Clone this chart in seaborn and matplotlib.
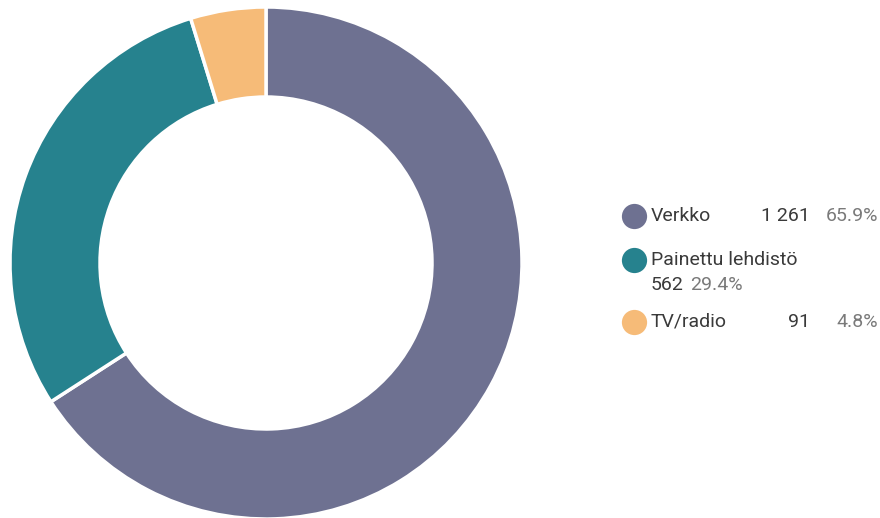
import matplotlib
matplotlib.use("Agg")
import matplotlib.pyplot as plt
import seaborn as sns

categories = ["Verkko", "Painettu lehdistö", "TV/radio"]
values = [1261, 562, 91]
value_labels = ["1 261", "562", "91"]
pct_labels = ["65.9%", "29.4%", "4.8%"]
colors = ["#6e7191", "#26828e", "#f6bb78"]

sns.set_theme(style="white")
plt.rcParams['font.family'] = ['Roboto', 'DejaVu Sans']

W, H = 880, 518
fig = plt.figure(figsize=(W / 100, H / 100), dpi=100)
cx, cy, R = 266, 263, 256
ax = fig.add_axes([(cx - R) / W, (H - cy - R) / H, 2 * R / W, 2 * R / H])
ax.pie(values, colors=colors, startangle=90, counterclock=False, radius=1,
       wedgeprops=dict(width=90 / 256, edgecolor="white", linewidth=2.5))
ax.set_xlim(-1, 1)
ax.set_ylim(-1, 1)
ax.set_aspect("equal")
ax.axis("off")

# legend drawn in figure pixel coordinates
lax = fig.add_axes([0, 0, 1, 1])
lax.set_xlim(0, W)
lax.set_ylim(H, 0)
lax.axis("off")

dark = "#3a3a3a"
gray = "#7a7a7a"
fs = 14
rows = [216, 260, 322]
for i, (cat, col, y) in enumerate(zip(categories, colors, rows)):
    lax.scatter([634], [y], s=330, color=col, zorder=3, linewidths=0)
    lax.text(651, y, cat, fontsize=fs, color=dark, va="center", ha="left")
    if i == 1:
        lax.text(651, y + 25, value_labels[i], fontsize=fs, color=dark, va="center", ha="left")
        lax.text(690, y + 25, pct_labels[i], fontsize=fs, color=gray, va="center", ha="left")
    else:
        lax.text(810, y, value_labels[i], fontsize=fs, color=dark, va="center", ha="right")
        lax.text(878, y, pct_labels[i], fontsize=fs, color=gray, va="center", ha="right")

fig.savefig("out.png", dpi=100)
